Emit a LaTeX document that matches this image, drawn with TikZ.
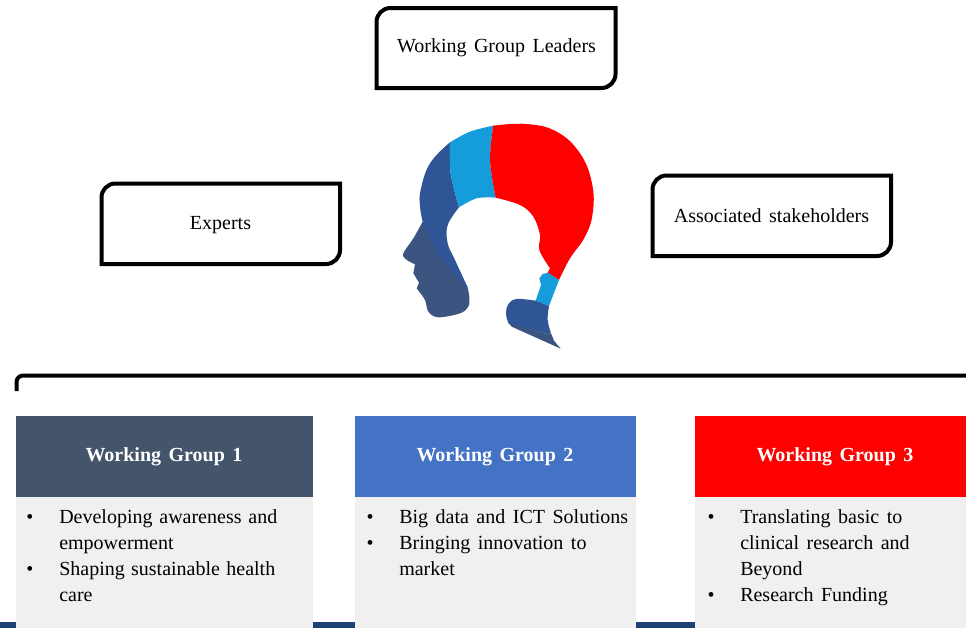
\documentclass[tikz,border=0pt]{standalone}
\usepackage{fontspec}
\setmainfont[WordSpace=1.5]{Liberation Serif}
\definecolor{wgA}{HTML}{44546A}
\definecolor{wgB}{HTML}{4472C4}
\definecolor{wgC}{HTML}{FF0000}
\definecolor{bodygrey}{HTML}{F0F0F0}
\definecolor{navystrip}{HTML}{1F3F77}
\definecolor{headblue}{HTML}{2F5597}
\definecolor{headdark}{HTML}{3B5580}
\definecolor{headcyan}{HTML}{149DDA}
\tikzset{
  px/.style={x=0.75pt,y=-0.75pt},
  boxlabel/.style={font=\fontsize{15}{18}\selectfont,inner sep=0pt,text=black},
  frame/.style={draw=black,line width=3pt,line join=miter},
  header/.style={font=\fontsize{15}{18}\selectfont\bfseries,text=white,inner sep=0pt},
  item/.style={font=\fontsize{15}{18}\selectfont,anchor=base west,inner sep=0pt,text=black},
  bullet/.style={font=\fontsize{15}{18}\selectfont,anchor=base,inner sep=0pt,text=black},
}
\newcommand{\diagbox}[5]{% name x0 y0 x1 y1 -- top-left and bottom-right corners rounded
  \draw[frame] (#2,#3+14) arc[start angle=180,end angle=90,radius=10.5pt] -- (#4,#3) -- (#4,#5-14) arc[start angle=0,end angle=-90,radius=10.5pt] -- (#2,#5) -- cycle;
}
\begin{document}
\begin{tikzpicture}[px]
\useasboundingbox (0,0) rectangle (966,628);
% bottom strip
\fill[navystrip] (0,622) rectangle (966,628);
% bracket
\coordinate (brA) at (16.5,391);
\coordinate (brB) at (966,375.5);
\draw[black,line width=3pt,rounded corners=5pt] (brA) -- (16.5,375.5) -- (brB);
% boxes
\diagbox{a}{376.5}{8}{615.5}{88}
\node[boxlabel] (leaders) at (496.5,48) {Working Group Leaders};
\diagbox{b}{101.5}{183.5}{340}{264}
\node[boxlabel] (experts) at (220.5,225) {Experts};
\diagbox{c}{652.5}{175.5}{891}{256}
\node[boxlabel] (assoc) at (771.5,216) {Associated stakeholders};
% head
\begin{scope}[shift={(380,110)},x=0.25pt,y=-0.25pt]
\fill[headdark] plot[smooth,tension=0.55] coordinates {(128,335) (100,385) (70,430) (78,448) (105,463)} -- (100,490) -- (117,518) -- (110,535)
  -- plot[smooth,tension=0.55] coordinates {(110,535) (135,570) (145,605) (175,622) (240,610) (265,590) (268,560) (262,530)} -- cycle;
\fill[headblue] plot[smooth,tension=0.7] coordinates {(210,97) (150,160) (122,240) (120,290) (128,335)}
  -- plot[smooth,tension=0.5] coordinates {(128,335) (180,440) (262,535)}
  -- plot[smooth,tension=0.6] coordinates {(262,530) (225,450) (203,400) (203,345) (237,292)}
  -- plot[smooth,tension=0.6] coordinates {(237,292) (212,190) (210,97)} -- cycle;
\fill[headcyan] plot[smooth,tension=0.6] coordinates {(210,97) (270,65) (340,47)}
  -- plot[smooth,tension=0.6] coordinates {(340,47) (330,150) (347,263)}
  -- plot[smooth,tension=0.6] coordinates {(347,263) (290,265) (237,292)}
  -- plot[smooth,tension=0.6] coordinates {(237,292) (212,190) (210,97)} -- cycle;
\fill[wgC] plot[smooth,tension=0.7] coordinates {(340,47) (440,42) (530,65) (600,130) (636,220) (638,310) (615,380) (570,445) (537,510)}
  -- (503,488) -- (510,475)
  -- plot[smooth,tension=0.6] coordinates {(510,475) (478,420) (480,375) (460,320) (420,285) (347,263)}
  -- plot[smooth,tension=0.6] coordinates {(347,263) (330,150) (340,47)} -- cycle;
\fill[headcyan] (503,488) -- (537,510) -- (507,588) -- (467,572) -- (483,525) -- (478,505) -- (488,492) -- cycle;
\fill[headblue] plot[smooth,tension=0.6] coordinates {(467,572) (410,567) (385,582) (378,610) (385,640)} -- (500,672) -- (513,670)
  -- plot[smooth,tension=0.6] coordinates {(513,670) (503,630) (507,588)} -- cycle;
\fill[headdark] (385,638) -- (395,650) -- (542,716) -- (522,692) -- (513,670) -- (500,672) -- cycle;
\end{scope}
% column 1
\fill[bodygrey] (16,497) rectangle (313,628);
\fill[wgA] (16,416) rectangle (313,497);
\node[header] (h1) at (164,457) {Working Group 1};
\node[bullet] (b11) at (30,523) {•};
\node[item] (t11) at (59,523) {\makebox[163.5pt][s]{Developing awareness and}};
\node[item] (t12) at (59,549) {empowerment};
\node[bullet] (b12) at (30,575) {•};
\node[item] (t13) at (59,575) {\makebox[162pt][s]{Shaping sustainable health}};
\node[item] (t14) at (59,601) {care};
% column 2
\fill[bodygrey] (355,497) rectangle (636,628);
\fill[wgB] (355,416) rectangle (636,497);
\node[header] (h2) at (495,457) {Working Group 2};
\node[bullet] (b21) at (370,523) {•};
\node[item] (t21) at (399,523) {Big data and ICT Solutions};
\node[bullet] (b22) at (370,549) {•};
\node[item] (t22) at (399,549) {Bringing innovation to};
\node[item] (t23) at (399,575) {market};
% column 3
\fill[bodygrey] (695,497) rectangle (966,628);
\fill[wgC] (695,416) rectangle (966,497);
\node[header] (h3) at (835,457) {Working Group 3};
\node[bullet] (b31) at (711,523) {•};
\node[item] (t31) at (740,523) {Translating basic to};
\node[item] (t32) at (740,549) {clinical research and};
\node[item] (t33) at (740,575) {Beyond};
\node[bullet] (b32) at (711,601) {•};
\node[item] (t34) at (740,601) {Research Funding};
\end{tikzpicture}
\end{document}
